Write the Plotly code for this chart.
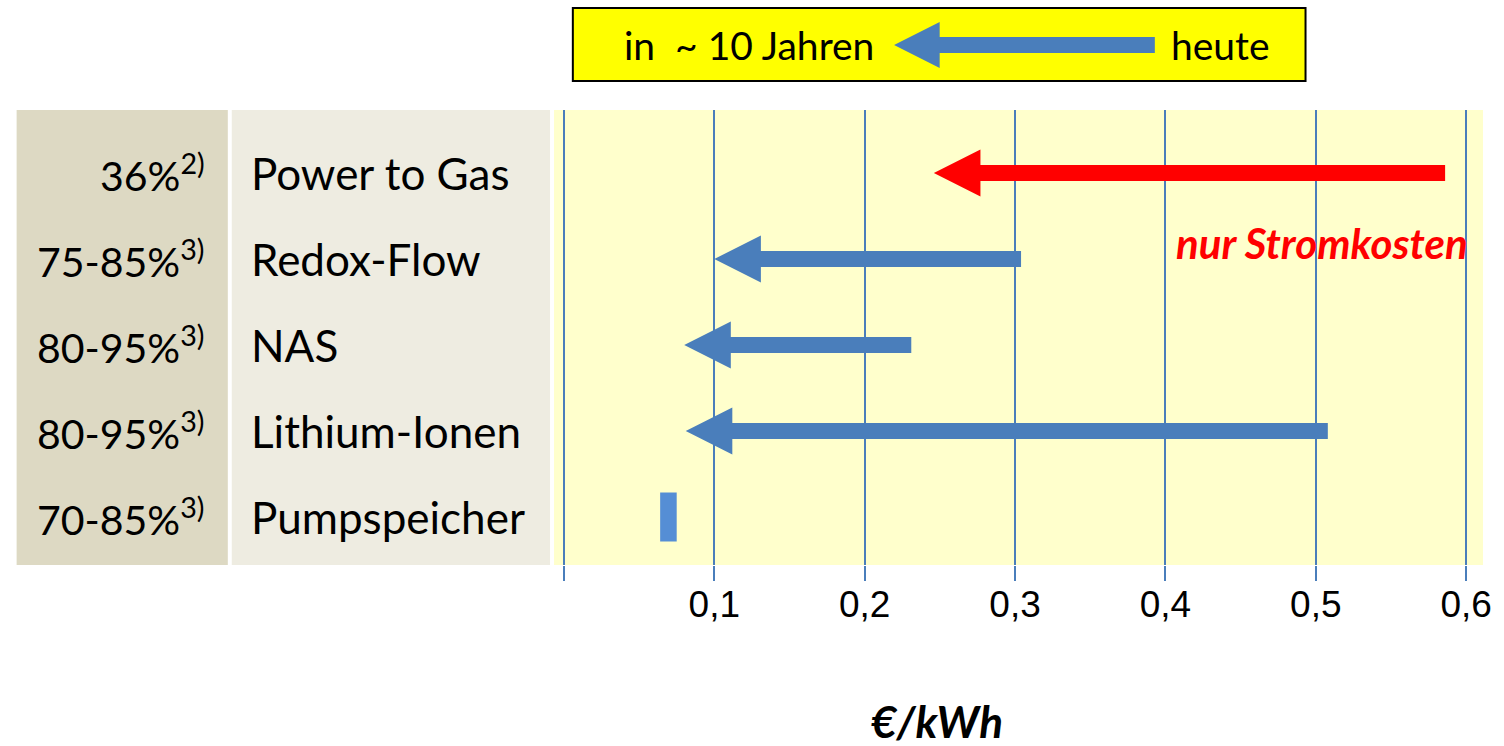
import plotly.graph_objects as go

# ---- data -------------------------------------------------------------
technologies = ["Power to Gas", "Redox-Flow", "NAS", "Lithium-Ionen", "Pumpspeicher"]
efficiency = ["36%", "75-85%", "80-95%", "80-95%", "70-85%"]
footnotes = ["2)", "3)", "3)", "3)", "3)"]
cost_today = [0.586, 0.304, 0.231, 0.508, 0.075]     # €/kWh heute
cost_future = [0.246, 0.100, 0.080, 0.081, 0.064]    # €/kWh in ~10 Jahren
arrow_colors = ["#FF0000", "#4A7EBB", "#4A7EBB", "#4A7EBB", "#558ED5"]
tick_values = [0, 0.1, 0.2, 0.3, 0.4, 0.5, 0.6]
tick_labels = ["", "0,1", "0,2", "0,3", "0,4", "0,5", "0,6"]

# ---- layout geometry (pixels) ---------------------------------------
W, H = 1504, 746
PL, PR, PT, PB = 554, 1491, 110, 565          # plot area edges
X_PER_UNIT = 1516.7                           # px per €/kWh
ROW0, ROW_STEP = 173, 86.0                    # first row centre, row spacing
X0_PX = 564                                   # pixel of 0 €/kWh

x_range = [(PL - X0_PX) / X_PER_UNIT, (PR - X0_PX) / X_PER_UNIT]
y_range = [(PB - ROW0) / ROW_STEP, (PT - ROW0) / ROW_STEP]


def px_x(px):
    return (px - PL) / (PR - PL)


def px_y(py):
    return (PB - py) / (PB - PT)


# arrow shape sizes in data units
HEAD_LEN = 47 / X_PER_UNIT
HEAD_HALF = 23.5 / ROW_STEP
SHAFT_HALF = 8 / ROW_STEP
BAR_HALF = 24.5 / ROW_STEP


def arrow_polygon(x_from, x_to, y):
    base = x_to + HEAD_LEN
    xs = [x_from, base, base, x_to, base, base, x_from, x_from]
    ys = [y - SHAFT_HALF, y - SHAFT_HALF, y - HEAD_HALF, y,
          y + HEAD_HALF, y + SHAFT_HALF, y + SHAFT_HALF, y - SHAFT_HALF]
    return xs, ys


fig = go.Figure()

for i, name in enumerate(technologies):
    if name == "Pumpspeicher":
        lo, hi = cost_future[i], cost_today[i]
        xs = [lo, hi, hi, lo, lo]
        ys = [i - BAR_HALF, i - BAR_HALF, i + BAR_HALF, i + BAR_HALF, i - BAR_HALF]
    else:
        xs, ys = arrow_polygon(cost_today[i], cost_future[i], i)
    fig.add_trace(go.Scatter(
        x=xs, y=ys, mode="lines", fill="toself",
        fillcolor=arrow_colors[i], line=dict(width=0),
        hoverinfo="skip", showlegend=False,
    ))

shapes = [
    # left label panels
    dict(type="rect", xref="paper", yref="paper", x0=px_x(12), x1=px_x(225),
         y0=0, y1=1, fillcolor="#DDD9C3", line=dict(width=0), layer="below"),
    dict(type="rect", xref="paper", yref="paper", x0=px_x(229), x1=px_x(550),
         y0=0, y1=1, fillcolor="#EEECE1", line=dict(width=0), layer="below"),
    # legend box at the top
    dict(type="rect", xref="paper", yref="paper", x0=px_x(573), x1=px_x(1312),
         y0=px_y(81), y1=px_y(8), fillcolor="#FFFF00",
         line=dict(color="#000000", width=2)),
]

# legend arrow inside the box
tip, hb, tail, cy = 897, 943, 1160, 45
pts = [(tail, cy - 8), (hb, cy - 8), (hb, cy - 23), (tip, cy),
       (hb, cy + 23), (hb, cy + 8), (tail, cy + 8)]
path = "M " + " L ".join(f"{px_x(a):.5f},{px_y(b):.5f}" for a, b in pts) + " Z"
shapes.append(dict(type="path", xref="paper", yref="paper", path=path,
                   fillcolor="#4A7EBB", line=dict(width=0)))

annotations = []
pct_font = dict(family="Lato, Calibri, sans-serif", size=41, color="#000000")
name_font = dict(family="Lato, Calibri, sans-serif", size=44, color="#000000")
for i in range(len(technologies)):
    annotations.append(dict(
        xref="paper", yref="y", x=px_x(204), y=i, xanchor="right", yanchor="middle",
        text=f"{efficiency[i]}<sup>{footnotes[i]}</sup>", showarrow=False,
        font=pct_font))
    annotations.append(dict(
        xref="paper", yref="y", x=px_x(246), y=i, xanchor="left", yanchor="middle",
        text=technologies[i], showarrow=False, font=name_font))

box_font = dict(family="Lato, Calibri, sans-serif", size=39, color="#000000")
annotations += [
    dict(xref="paper", yref="paper", x=px_x(623), y=px_y(45), xanchor="left",
         yanchor="middle", text="in\u00a0\u00a0~ 10 Jahren", showarrow=False, font=box_font),
    dict(xref="paper", yref="paper", x=px_x(1174), y=px_y(45), xanchor="left",
         yanchor="middle", text="heute", showarrow=False, font=box_font),
    dict(xref="paper", yref="paper", x=px_x(1478), y=px_y(243), xanchor="right",
         yanchor="middle", text="<b><i>nur Stromkosten</i></b>", showarrow=False,
         font=dict(family="Lato, Calibri, sans-serif", size=42, color="#FF0000")),
    dict(xref="paper", yref="paper", x=px_x(940), y=px_y(721), xanchor="center",
         yanchor="middle", text="<b><i>€/kWh</i></b>", showarrow=False,
         font=dict(family="Lato, Calibri, sans-serif", size=44, color="#000000")),
]

fig.update_layout(
    width=W, height=H,
    margin=dict(l=PL, r=W - PR, t=PT, b=H - PB, pad=0),
    paper_bgcolor="#FFFFFF", plot_bgcolor="#FFFFCC",
    shapes=shapes, annotations=annotations, showlegend=False,
    xaxis=dict(range=x_range, tickvals=tick_values, ticktext=tick_labels,
               showgrid=True, gridcolor="#4A7EBB", gridwidth=2, zeroline=False,
               showline=False, ticks="outside", ticklen=15, tickwidth=2,
               tickcolor="#4A7EBB", ticklabelstandoff=-8,
               tickfont=dict(family="Liberation Sans, Arial",
                             size=37, color="#000000")),
    yaxis=dict(range=y_range, showgrid=False, zeroline=False, showline=False,
               showticklabels=False, ticks=""),
)

fig.write_html("out.html")
